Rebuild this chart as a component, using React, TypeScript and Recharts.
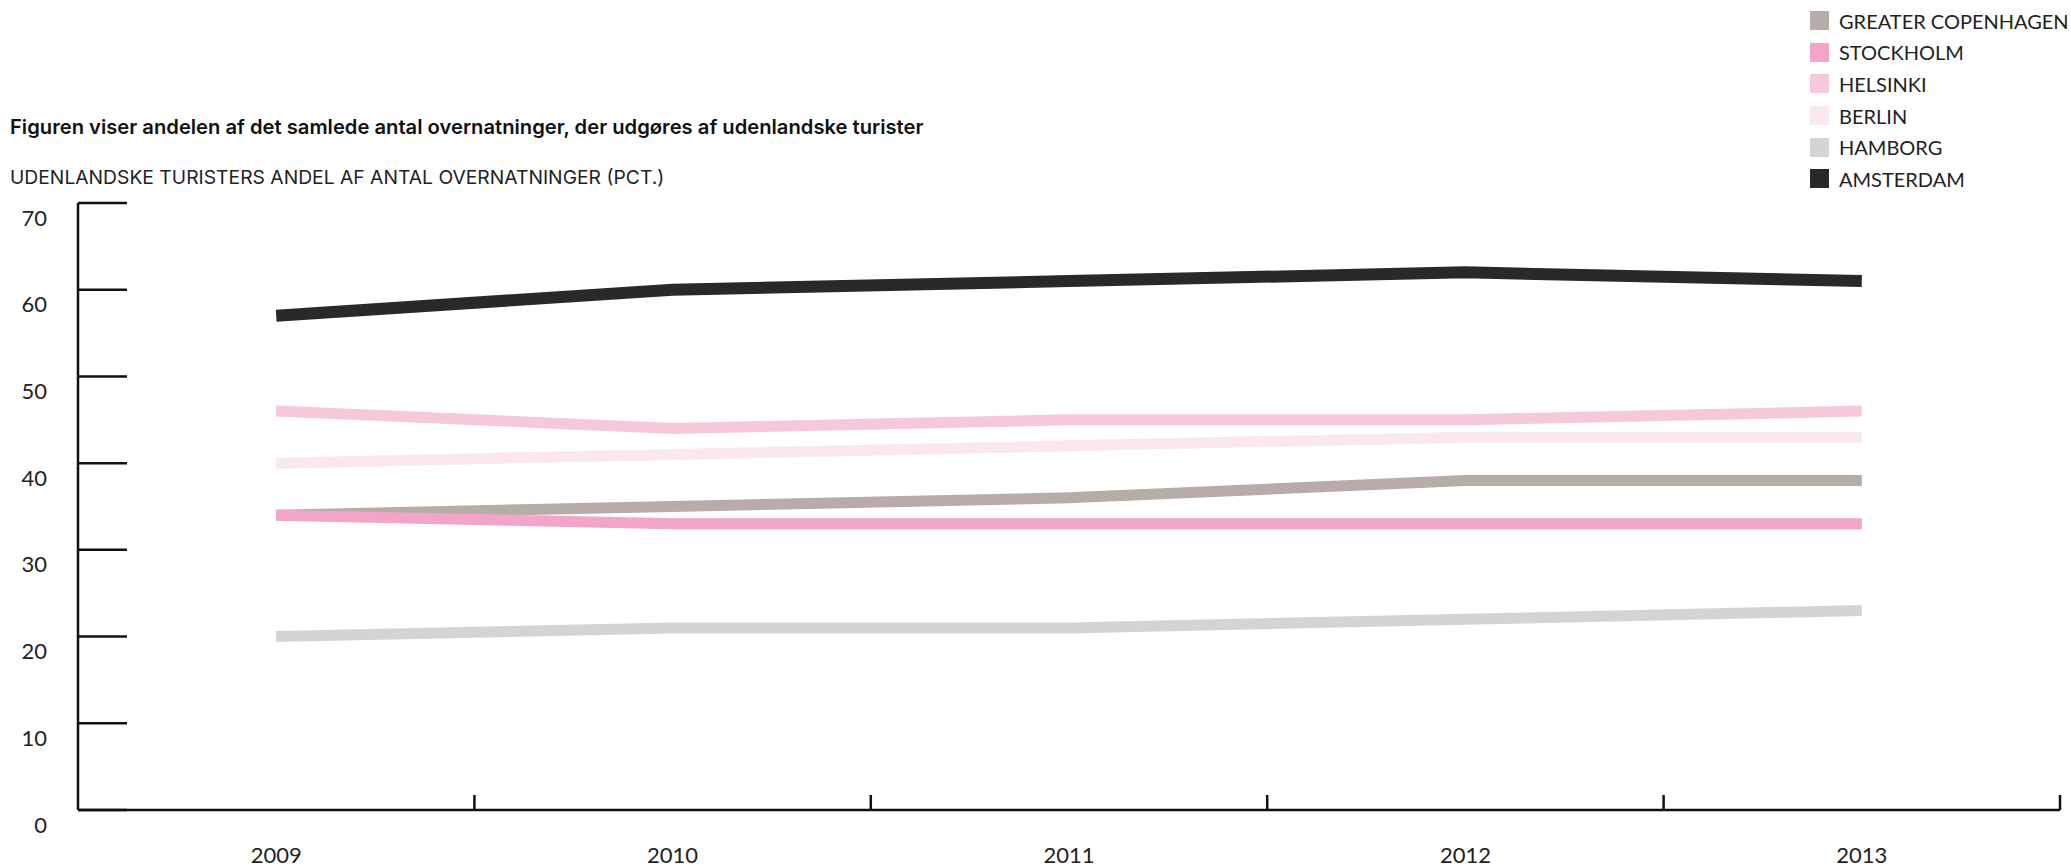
import React from "react";
import { LineChart, Line, XAxis, YAxis } from "recharts";

const years = [2009, 2010, 2011, 2012, 2013];
const yTicks = [0, 10, 20, 30, 40, 50, 60, 70];
const xTicks = [2009, 2009.5, 2010, 2010.5, 2011, 2011.5, 2012, 2012.5, 2013, 2013.5];

const greaterCopenhagen = [34, 35, 36, 38, 38];
const stockholm = [34, 33, 33, 33, 33];
const helsinki = [46, 44, 45, 45, 46];
const berlin = [40, 41, 42, 43, 43];
const hamborg = [20, 21, 21, 22, 23];
const amsterdam = [57, 60, 61, 62, 61];

const seriesNames = ["GREATER COPENHAGEN", "STOCKHOLM", "HELSINKI", "BERLIN", "HAMBORG", "AMSTERDAM"];
const seriesKeys = ["cph", "sto", "hel", "ber", "ham", "ams"];
const seriesColors = ["#b9aca8", "#f2a5c8", "#f6c8dc", "#fbe7f0", "#d4d4d4", "#2a2928"];
const seriesValues = [greaterCopenhagen, stockholm, helsinki, berlin, hamborg, amsterdam];

const data = years.map((y, i) => {
  const row: any = { year: y };
  seriesKeys.forEach((k, j) => {
    row[k] = seriesValues[j][i];
  });
  return row;
});

const YTick = (props: any) => {
  const { x, y, payload } = props;
  return (
    <g>
      <line x1={x} x2={x + 49} y1={y} y2={y} stroke="#111" strokeWidth={2.5} />
      <text x={x - 31} y={y + 14} textAnchor="end" dominantBaseline="central" fontFamily="Lato" fontSize={22} fill="#222">
        {payload.value}
      </text>
    </g>
  );
};

const XTick = (props: any) => {
  const { x, y, payload } = props;
  const v = payload.value;
  if (Number.isInteger(v)) {
    return (
      <text x={x} y={y + 44} textAnchor="middle" dominantBaseline="central" fontFamily="Lato" fontSize={22} fill="#222">
        {v}
      </text>
    );
  }
  return <line x1={x} x2={x} y1={y} y2={y - 15} stroke="#111" strokeWidth={2.5} />;
};

export default function App() {
  return (
    <div style={{ position: "absolute", left: 0, top: 0, width: 2071, height: 866, background: "#fff" }}>
      <div
        style={{
          position: "absolute",
          left: 10,
          top: 114,
          fontFamily: "Inter",
          fontWeight: 600,
          fontSize: 20.2,
          color: "#111",
          whiteSpace: "nowrap",
        }}
      >
        Figuren viser andelen af det samlede antal overnatninger, der udgøres af udenlandske turister
      </div>
      <div
        style={{
          position: "absolute",
          left: 10,
          top: 165,
          fontFamily: "Inter",
          fontSize: 19.3,
          color: "#222",
          whiteSpace: "nowrap",
        }}
      >
        UDENLANDSKE TURISTERS ANDEL AF ANTAL OVERNATNINGER (PCT.)
      </div>
      <div style={{ position: "absolute", left: 1810, top: 5 }}>
        {seriesNames.map((n, i) => (
          <div key={n} style={{ display: "flex", alignItems: "center", height: 31.6 }}>
            <div style={{ width: 19, height: 19, background: seriesColors[i], marginRight: 10 }} />
            <span style={{ fontFamily: "Lato", fontSize: 20, color: "#222", lineHeight: "20px" }}>{n}</span>
          </div>
        ))}
      </div>
      <LineChart width={2071} height={866} data={data} margin={{ top: 203, right: 11, bottom: 0, left: 0 }}>
        <XAxis
          dataKey="year"
          type="number"
          domain={[2008.5, 2013.5]}
          ticks={xTicks}
          interval={0}
          height={56}
          tickSize={0}
          tickMargin={0}
          tickLine={false}
          axisLine={{ stroke: "#111", strokeWidth: 2.5 }}
          tick={<XTick />}
        />
        <YAxis
          type="number"
          domain={[0, 70]}
          ticks={yTicks}
          interval={0}
          width={78}
          tickSize={0}
          tickMargin={0}
          tickLine={false}
          axisLine={{ stroke: "#111", strokeWidth: 2.5 }}
          tick={<YTick />}
        />
        {seriesKeys.map((k, i) => (
          <Line
            key={k}
            dataKey={k}
            name={seriesNames[i]}
            stroke={seriesColors[i]}
            strokeWidth={i === 5 ? 12 : 11}
            dot={false}
            activeDot={false}
            type="linear"
            isAnimationActive={false}
          />
        ))}
      </LineChart>
    </div>
  );
}
